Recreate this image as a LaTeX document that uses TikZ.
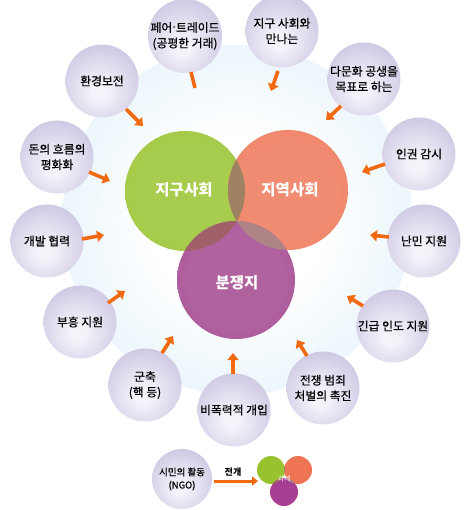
\documentclass[tikz,border=0pt]{standalone}
\usepackage{fontspec}
\setmainfont{Noto Sans CJK KR}
\newfontfamily\satfont[FakeBold=0.6]{Noto Sans CJK KR}
\newfontfamily\dotfont{DejaVu Sans}
\usetikzlibrary{arrows.meta}
\definecolor{bgmid}{HTML}{DCEFFA}
\definecolor{bgedge}{HTML}{C3E3F5}
\definecolor{satin}{HTML}{F5F3FA}
\definecolor{satmid}{HTML}{CCC6E2}
\definecolor{satout}{HTML}{A098C6}
\definecolor{grn}{HTML}{98C22E}
\definecolor{grnin}{HTML}{A8CC4E}
\definecolor{org}{HTML}{EE7454}
\definecolor{orgin}{HTML}{F08C72}
\definecolor{pur}{HTML}{A63E92}
\definecolor{purin}{HTML}{B0629F}
\definecolor{ov1}{HTML}{9E8262}
\definecolor{ov2}{HTML}{A0606A}
\definecolor{ov3}{HTML}{AE8486}
\definecolor{ov4}{HTML}{A0607A}
\definecolor{arr}{HTML}{F26A10}
\pgfdeclareradialshading{satshade}{\pgfpoint{-2bp}{-8bp}}{color(0bp)=(satin); color(5bp)=(satin); color(32bp)=(satmid); color(56bp)=(satout); color(80bp)=(satout)}
\pgfdeclareradialshading{bgshade}{\pgfpoint{0bp}{0bp}}{color(0bp)=(white); color(12bp)=(white); color(35bp)=(bgmid); color(50bp)=(bgedge); color(75bp)=(bgedge)}
\pgfdeclareradialshading{gshade}{\pgfpoint{0bp}{0bp}}{color(0bp)=(grnin); color(20bp)=(grnin); color(50bp)=(grn); color(75bp)=(grn)}
\pgfdeclareradialshading{oshade}{\pgfpoint{0bp}{0bp}}{color(0bp)=(orgin); color(20bp)=(orgin); color(50bp)=(org); color(75bp)=(org)}
\pgfdeclareradialshading{pshade}{\pgfpoint{0bp}{0bp}}{color(0bp)=(purin); color(20bp)=(purin); color(50bp)=(pur); color(75bp)=(pur)}
\tikzset{
  sat/.style={circle, shading=satshade, minimum size=73pt, inner sep=0pt, align=center, font=\satfont\fontsize{11.8}{15.5}\selectfont, text=black},
  arrowline/.style={draw=arr, line width=3.6pt, -{Triangle[length=7pt,width=11pt]}},
  venntext/.style={text=white, font=\fontsize{15.5}{17}\selectfont\bfseries}
}
\begin{document}
\begin{tikzpicture}[x=1pt,y=-1pt]
\useasboundingbox (0,0) rectangle (472,510);
% background circle
\shade[shading=bgshade] (237,220) circle (175);
% Venn circles
\shade[shading=gshade] (185,191) circle (60);
\shade[shading=oshade] (288,190) circle (60);
\shade[shading=pshade] (236,280) circle (59);
\begin{scope}
  \clip (185,191) circle (60);
  \fill[ov1] (288,190) circle (60);
  \fill[ov2] (236,280) circle (59);
  \clip (288,190) circle (60);
  \fill[ov4] (236,280) circle (59);
\end{scope}
\begin{scope}
  \clip (288,190) circle (60);
  \clip (236,280) circle (59);
  \fill[ov3] (236,280) circle (59);
  \clip (185,191) circle (60);
  \fill[ov4] (236,280) circle (59);
\end{scope}
\node[venntext] (global) at (184,190) {지구사회};
\node[venntext] (local) at (290,190) {지역사회};
\node[venntext] (conflict) at (237,283) {분쟁지};
% satellite circles
\node[sat] (fair) at (185,36) {페어{\dotfont·}트레이드\\(공평한 거래)};
\node[sat] (meet) at (282,31) {지구 사회와\\만나는};
\node[sat] (multi) at (364,79) {다문화 공생을\\목표로 하는};
\node[sat] (human) at (419,154) {인권 감시};
\node[sat] (refugee) at (424,241) {난민 지원};
\node[sat] (emerg) at (393,326) {긴급 인도 지원};
\node[sat] (war) at (323,388) {전쟁 범죄\\처벌의 촉진};
\node[sat] (nonviol) at (234,410) {비폭력적 개입};
\node[sat] (disarm) at (145,385) {군축\\(핵 등)};
\node[sat] (recon) at (80,322) {부흥 지원};
\node[sat] (devel) at (47,241) {개발 협력};
\node[sat] (money) at (57,157) {돈의 흐름의\\평화화};
\node[sat] (env) at (102,81) {환경보전};
% arrows
\coordinate (a1s) at (191,72); \coordinate (a1e) at (195,88);
\coordinate (a2s) at (278,71); \coordinate (a2e) at (271,91);
\coordinate (a3s) at (341,106); \coordinate (a3e) at (326,120);
\coordinate (a4s) at (385,164); \coordinate (a4e) at (362,172);
\coordinate (a5s) at (389,237); \coordinate (a5e) at (370,235);
\coordinate (a6s) at (363,306); \coordinate (a6e) at (347,296);
\coordinate (a7s) at (307,356); \coordinate (a7e) at (297,340);
\coordinate (a8s) at (233,374); \coordinate (a8e) at (233,353);
\coordinate (a9s) at (162,353); \coordinate (a9e) at (173,336);
\coordinate (a10s) at (108,303); \coordinate (a10e) at (125,291);
\coordinate (a11s) at (82,239); \coordinate (a11e) at (104,235);
\coordinate (a12s) at (89,172); \coordinate (a12e) at (110,181);
\coordinate (a13s) at (126,109); \coordinate (a13e) at (143,126);
\draw[draw=arr, line width=3.6pt] (a1s) -- (a1e);
\foreach \i in {2,...,13} { \draw[arrowline] (a\i s) -- (a\i e); }
% legend
\node[sat, minimum size=60pt, font=\satfont\fontsize{9.5}{13}\selectfont] (ngo) at (182,479) {시민의 활동\\(NGO)};
\coordinate (lg) at (258,481);
\draw[draw=arr, line width=3pt, -{Triangle[length=6pt,width=9pt]}] (ngo.east) ++(2,2) coordinate (lgs) -- (lg);
\node[font=\fontsize{9}{10}\selectfont\bfseries] (dev) at (233,472) {전개};
\fill[grn] (271,470) circle (14);
\fill[org] (298,470) circle (14);
\fill[pur] (284,492) circle (14);
\begin{scope}
  \clip (271,470) circle (14);
  \fill[ov1] (298,470) circle (14);
  \fill[ov2] (284,492) circle (14);
\end{scope}
\begin{scope}
  \clip (298,470) circle (14);
  \fill[ov3] (284,492) circle (14);
\end{scope}
\node[text=white, font=\fontsize{7}{8}\selectfont] (task) at (284,479) {과제};
\end{tikzpicture}
\end{document}
